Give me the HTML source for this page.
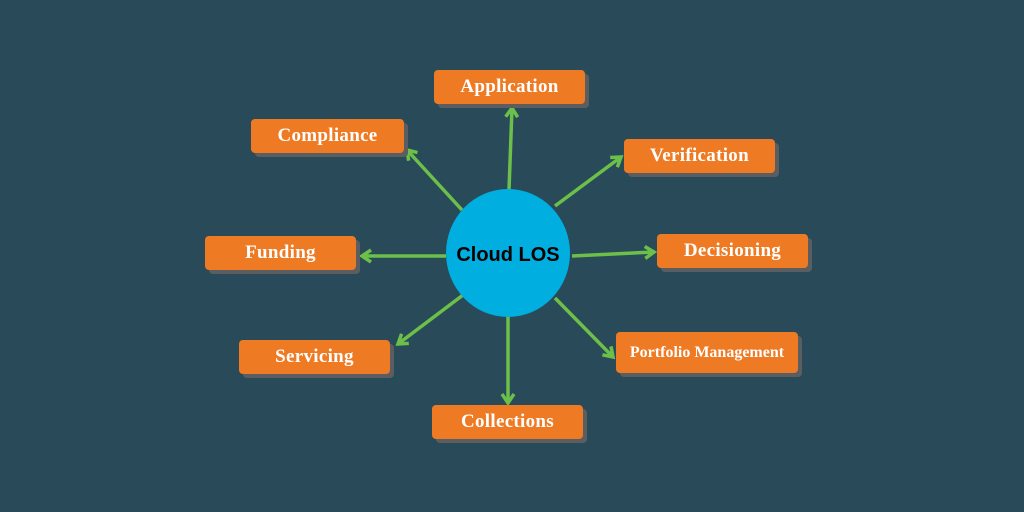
<!DOCTYPE html>
<html><head><style>
html,body{margin:0;padding:0;}
body{width:1024px;height:512px;background:#284a59;position:relative;overflow:hidden;font-family:"Liberation Serif",serif;}
.b{position:absolute;background:#ef7a24;border-radius:4px;color:#fff;font-weight:bold;font-size:19px;display:flex;align-items:center;justify-content:center;box-shadow:4px 4px 0 #5b5e60;letter-spacing:0.3px;}
svg{position:absolute;left:0;top:0;}
</style></head><body>
<svg width="1024" height="512">
<defs><marker id="a" markerWidth="14" markerHeight="16" refX="11" refY="8" orient="auto" markerUnits="userSpaceOnUse"><path d="M2,2 L11,8 L2,14" fill="none" stroke="#6cc04a" stroke-width="3.5"/></marker></defs>
<g stroke="#6cc04a" stroke-width="3.5" marker-end="url(#a)">
<line x1="509" y1="190" x2="512" y2="108"/>
<line x1="462" y1="210" x2="407" y2="150"/>
<line x1="555" y1="206" x2="621" y2="157"/>
<line x1="446" y1="256" x2="362" y2="256"/>
<line x1="572" y1="256" x2="654" y2="252"/>
<line x1="463" y1="295" x2="398" y2="344"/>
<line x1="555" y1="298" x2="613" y2="357"/>
<line x1="508" y1="316" x2="508" y2="403"/>
</g>
<ellipse cx="508" cy="253" rx="62" ry="64" fill="#00afe0"/>
<text x="508" y="261" text-anchor="middle" font-family="Liberation Sans,sans-serif" font-weight="bold" font-size="20" fill="#000">Cloud LOS</text>
</svg>
<div class="b" style="left:434px;top:70px;width:151px;height:34px">Application</div>
<div class="b" style="left:251px;top:119px;width:153px;height:34px">Compliance</div>
<div class="b" style="left:624px;top:139px;width:151px;height:34px">Verification</div>
<div class="b" style="left:205px;top:236px;width:151px;height:34px">Funding</div>
<div class="b" style="left:657px;top:234px;width:151px;height:34px">Decisioning</div>
<div class="b" style="left:239px;top:340px;width:151px;height:34px">Servicing</div>
<div class="b" style="left:616px;top:332px;width:182px;height:41px;font-size:16px;letter-spacing:0">Portfolio Management</div>
<div class="b" style="left:432px;top:405px;width:151px;height:34px">Collections</div>
</body></html>
